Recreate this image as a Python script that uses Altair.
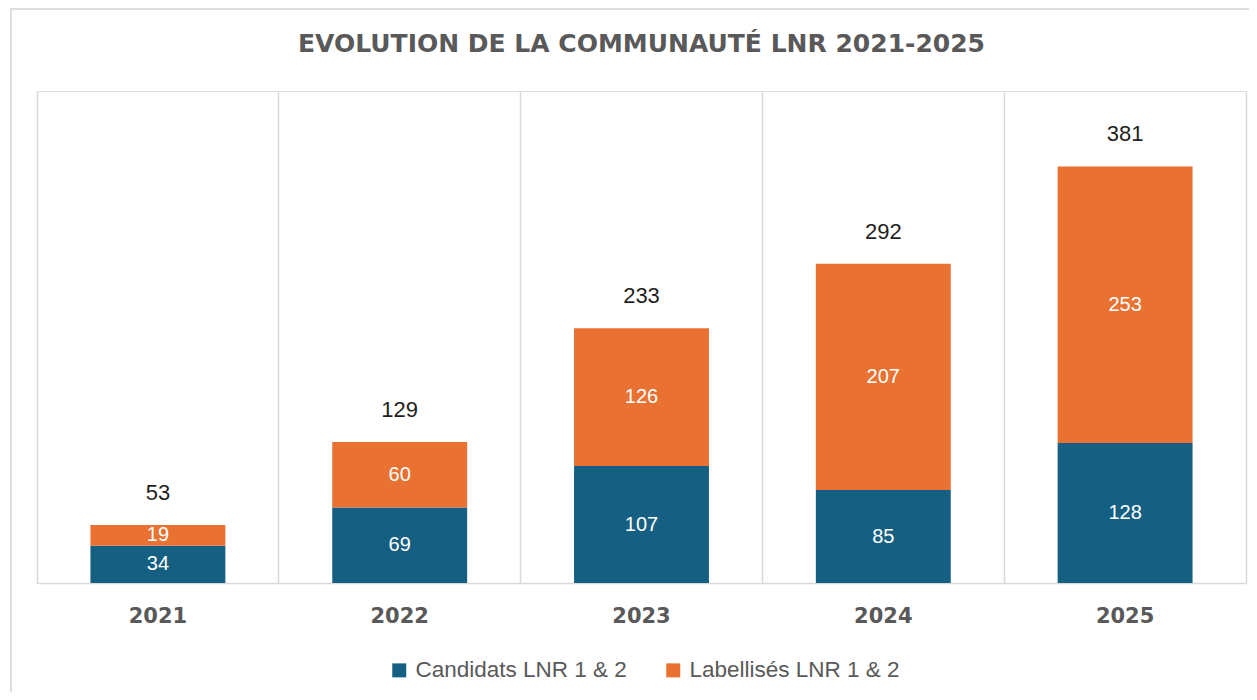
import altair as alt
import pandas as pd

years = ["2021", "2022", "2023", "2024", "2025"]
candidats = [34, 69, 107, 85, 128]
labellises = [19, 60, 126, 207, 253]
series = ["Candidats LNR 1 & 2", "Labellisés LNR 1 & 2"]
colors = ["#156082", "#E97132"]

rows = []
for i, y in enumerate(years):
    rows.append({"year": y, "serie": series[0], "value": candidats[i], "ord": 0})
    rows.append({"year": y, "serie": series[1], "value": labellises[i], "ord": 1})
df = pd.DataFrame(rows)

W, H = 1209, 492
GRID = "#D9D9D9"
GRAY = "#595959"

x_enc = alt.X(
    "year:N",
    sort=years,
    scale=alt.Scale(paddingInner=0, paddingOuter=0),
    axis=alt.Axis(
        title=None, ticks=False, tickSize=0, labelPadding=22,
        labelFont="DejaVu Sans", labelFontWeight="bold", labelFontSize=21,
        labelColor=GRAY, labelAngle=0, domainColor=GRID, domainWidth=1.5,
        grid=True, gridColor=GRID, gridWidth=1.5, bandPosition=0,
    ),
)
y_axis = alt.Axis(
    title=None, orient="right", labels=False, ticks=False, grid=False,
    domain=True, domainColor=GRID, domainWidth=1.5,
)
y_scale = alt.Scale(domain=[0, 450], nice=False)

bars = alt.Chart(df).mark_bar(width=alt.RelativeBandSize(0.558)).encode(
    x=x_enc,
    y=alt.Y("value:Q", stack="zero", scale=y_scale, axis=y_axis),
    color=alt.Color(
        "serie:N",
        scale=alt.Scale(domain=series, range=colors),
        legend=alt.Legend(
            title=None, orient="none", legendX=351, legendY=568,
            direction="horizontal", symbolType="square", symbolSize=196,
            symbolStrokeWidth=0, labelFont="Liberation Sans", labelFontSize=22.5,
            labelColor=GRAY, labelOffset=5, columnPadding=35, padding=0,
            labelLimit=400,
        ),
    ),
    order=alt.Order("ord:Q", sort="ascending"),
)

inner = alt.Chart(df).transform_stack(
    stack="value", groupby=["year"], as_=["v0", "v1"],
    sort=[alt.SortField("ord", order="ascending")],
).transform_calculate(mid="(datum.v0 + datum.v1) / 2").mark_text(
    font="Liberation Sans", fontSize=20, color="white", baseline="middle",
).encode(
    x=x_enc,
    y=alt.Y("mid:Q", scale=y_scale, axis=y_axis),
    text="value:Q",
)

totals = alt.Chart(df).transform_aggregate(
    total="sum(value)", groupby=["year"]
).mark_text(
    font="Liberation Sans", fontSize=22, color="#1F1F1F", baseline="middle", dy=-32,
).encode(
    x=x_enc,
    y=alt.Y("total:Q", scale=y_scale, axis=y_axis),
    text="total:Q",
)

frame = alt.Chart(pd.DataFrame({"k": [0]})).mark_rect(
    filled=False, stroke="#DDDDDD", strokeWidth=2,
).encode(
    x=alt.value(-26), x2=alt.value(1300), y=alt.value(-82), y2=alt.value(800),
)

chart = alt.layer(frame, bars, inner, totals).properties(
    width=W, height=H,
    title=alt.TitleParams(
        "EVOLUTION DE LA COMMUNAUTÉ LNR 2021-2025",
        font="DejaVu Sans", fontSize=25, fontWeight="bold", color=GRAY,
        anchor="middle", offset=39, baseline="alphabetic", dy=108,
    ),
    autosize=alt.AutoSizeParams(type="none"),
    padding={"left": 29, "top": 83, "right": 3, "bottom": 109},
).configure_view(stroke=None).configure(background="white")

chart.save("out.html", embed_options={"renderer": "svg", "actions": False})
